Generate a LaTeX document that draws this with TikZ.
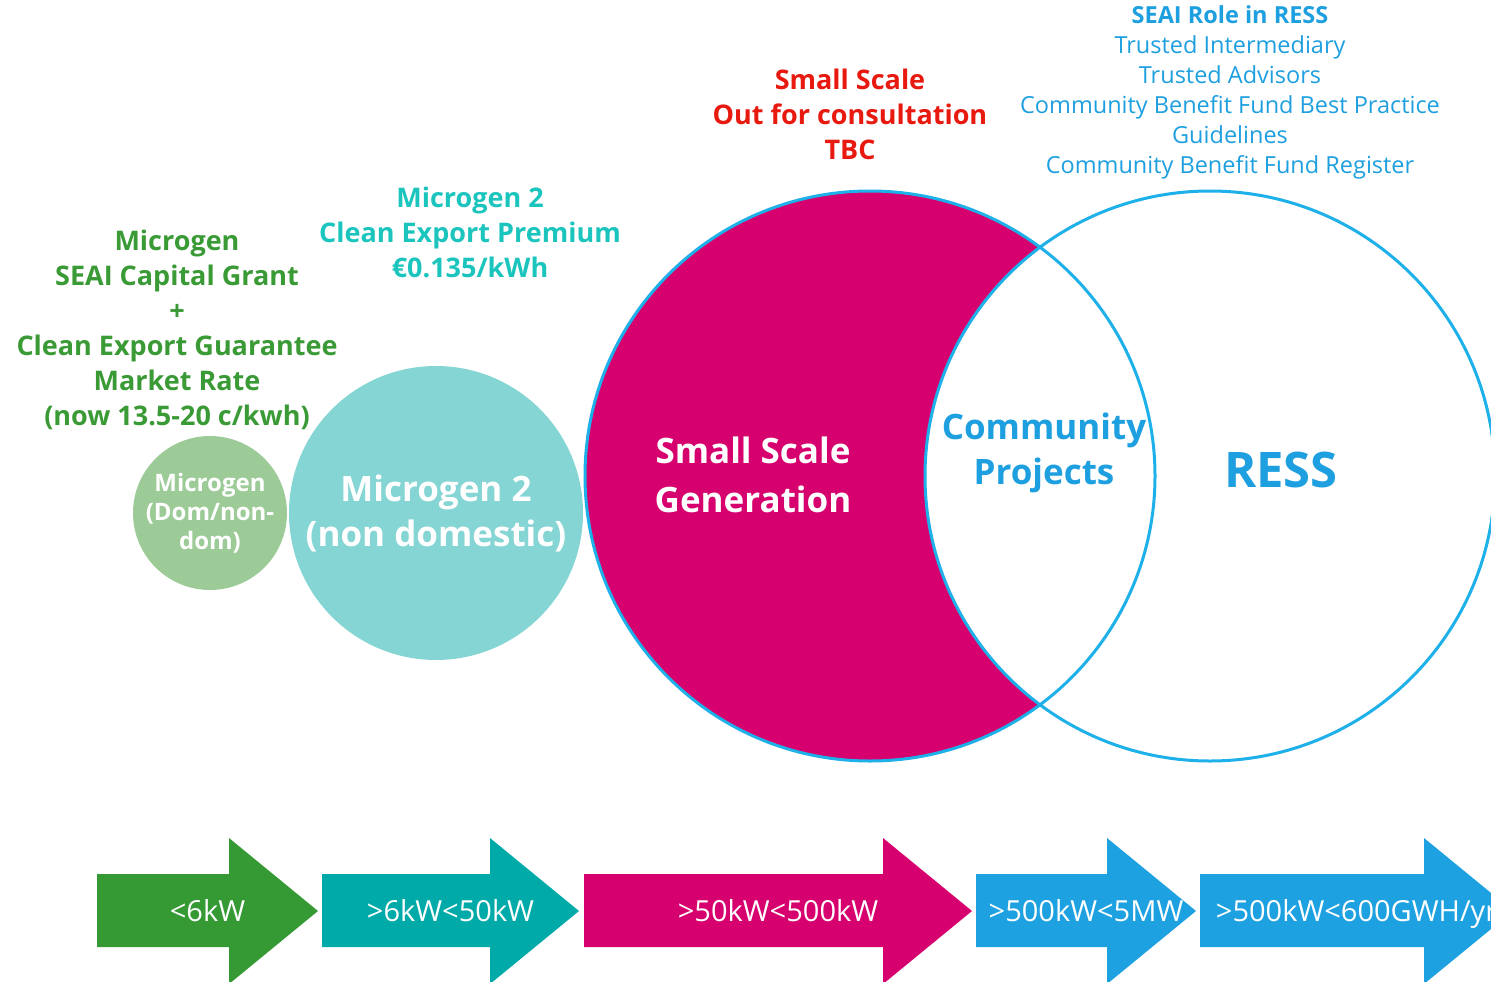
\documentclass[tikz,border=0pt]{standalone}
\usepackage{fontspec}
\setmainfont{Open Sans}
\usepackage{tikz}
\usetikzlibrary{positioning}
\definecolor{txtgreen}{HTML}{3A9A35}
\definecolor{txtteal}{HTML}{1CC4BE}
\definecolor{txtred}{HTML}{E8190F}
\definecolor{txtblue}{HTML}{1E9FDF}
\definecolor{bubgreen}{HTML}{9CCB98}
\definecolor{bubteal}{HTML}{84D5D3}
\definecolor{magenta}{HTML}{D6006E}
\definecolor{rim}{HTML}{1EB0E8}
\definecolor{arrgreen}{HTML}{359934}
\definecolor{arrteal}{HTML}{00AAA8}
\definecolor{arrblue}{HTML}{1EA1E0}

\begin{document}
\begin{tikzpicture}[x=1pt, y=-1pt,
    bubble/.style={circle, inner sep=0pt, align=center, text=white, font=\bfseries},
    label/.style={align=center, inner sep=0pt, font=\bfseries\fontsize{27}{35}\selectfont},
    band/.style={inner sep=0pt, anchor=base, text=white, font=\fontsize{29}{30}\selectfont}
  ]
  \useasboundingbox (0,0) rectangle (1491,982);
  \clip (0,0) rectangle (1491,982);

  % Small bubbles
  \node[bubble, fill=bubgreen, minimum size=154pt, font=\bfseries\fontsize{24}{29}\selectfont] (micro) at (210,513) {Microgen\\(Dom/non-\\dom)};
  \node[bubble, fill=bubteal, minimum size=294pt, font=\bfseries\fontsize{35}{45}\selectfont] (micro2) at (436,513) {Microgen 2\\(non domestic)};

  % Crescent and RESS
  \node[circle, inner sep=0pt, fill=magenta, minimum size=570pt] (ssg) at (870,476) {};
  \node[circle, inner sep=0pt, fill=white, draw=rim, line width=3pt, minimum size=570pt] (ress) at (1210,476) {};
  \node[circle, inner sep=0pt, draw=rim, line width=3pt, minimum size=570pt] (ssgrim) at (ssg) {};

  \node[align=center, text=white, font=\bfseries\fontsize{35}{49}\selectfont] (ssgtext) at (753,475) {Small Scale\\Generation};
  \node[align=center, text=txtblue, font=\bfseries\fontsize{35}{45}\selectfont] (cptext) at (1044,453) {Community\\Projects};
  \node[text=txtblue, font=\bfseries\fontsize{49}{50}\selectfont] (resstext) at (1281,470) {RESS};

  % Labels on top
  \node[label, text=txtgreen] (grantlbl) at (177,330) {Microgen\\SEAI Capital Grant\\+\\Clean Export Guarantee\\Market Rate\\(now 13.5-20 c/kwh)};
  \node[label, text=txtteal] (premlbl) at (470,232) {Microgen 2\\Clean Export Premium\\€0.135/kWh};
  \node[label, text=txtred] (conslbl) at (850,114) {Small Scale\\Out for consultation\\TBC};
  \node[align=center, inner sep=0pt, text=txtblue, font=\fontsize{23.5}{30}\selectfont] (rolelbl) at (1230,92) {\textbf{SEAI Role in RESS}\\Trusted Intermediary\\Trusted Advisors\\Community Benefit Fund Best Practice\\Guidelines\\Community Benefit Fund Register};

  % Size arrows
  \foreach \xa/\xb/\col/\lab [count=\i] in {97/229/arrgreen/{<6kW}, 322/490/arrteal/{>6kW<50kW}, 584/883/magenta/{>50kW<500kW}, 976/1107/arrblue/{>500kW<5MW}, 1200/1424/arrblue/{>500kW<600GWH/yr}} {
    \fill[\col] (\xa,874) -- (\xb,874) -- (\xb,838) -- (\xb+89,911) -- (\xb,984) -- (\xb,947) -- (\xa,947) -- cycle;
    \node[band] (band\i) at ({(\xa+\xb+89)/2},921) {\lab};
  }
\end{tikzpicture}
\end{document}
